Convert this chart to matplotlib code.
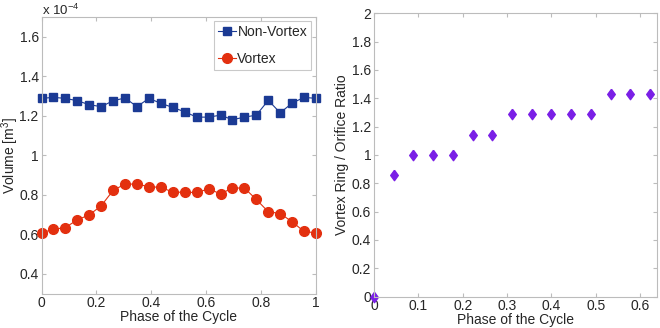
import numpy as np
import matplotlib
matplotlib.use('Agg')
import matplotlib.pyplot as plt

plt.rcParams['font.family'] = ['Liberation Sans', 'DejaVu Sans']
plt.rcParams['font.size'] = 10
plt.rcParams['mathtext.fontset'] = 'custom'
plt.rcParams['mathtext.rm'] = 'Liberation Sans'
plt.rcParams['mathtext.it'] = 'Liberation Sans'

# left panel: volume vs phase (values in units of 1e-4 m^3)
phase = np.linspace(0, 1, 24)
non_vortex = [1.288, 1.293, 1.288, 1.276, 1.256, 1.246, 1.276, 1.290, 1.246, 1.288,
              1.263, 1.242, 1.220, 1.193, 1.193, 1.203, 1.180, 1.193, 1.203, 1.278,
              1.215, 1.264, 1.293, 1.288]
vortex = [0.607, 0.625, 0.634, 0.673, 0.698, 0.744, 0.822, 0.854, 0.854, 0.841,
          0.837, 0.814, 0.812, 0.812, 0.829, 0.805, 0.834, 0.834, 0.776, 0.714,
          0.705, 0.663, 0.614, 0.607]

# right panel: vortex ring / orifice ratio
phase_r = [0, 0.0444, 0.0889, 0.1333, 0.1778, 0.2222, 0.2667, 0.3111, 0.3556,
           0.4, 0.4444, 0.4889, 0.5333, 0.5778, 0.6222]
ratio = [0, 0.857, 1, 1, 1, 1.143, 1.143, 1.286, 1.286, 1.286, 1.286, 1.286,
         1.429, 1.429, 1.429]

axcol = '#bcbcbc'
txtcol = '#262626'

fig = plt.figure(figsize=(6.6, 3.28), dpi=100)
ax1 = fig.add_axes([41.5/660, 1 - 293.5/328, 274.5/660, 276.5/328])
ax2 = fig.add_axes([374/660, 1 - 296.5/328, 283/660, 283.3/328])

def style(ax):
    for s in ax.spines.values():
        s.set_color(axcol)
        s.set_linewidth(0.8)
    ax.tick_params(direction='in', length=3, color=axcol, labelcolor=txtcol,
                   top=True, right=True, labelsize=10, pad=2)

ax1.plot(phase, non_vortex, '-s', color='#1b3a94', markersize=6.3, lw=0.8,
         label='Non-Vortex')
ax1.plot(phase, vortex, '-o', color='#e3300f', markersize=7, lw=0.8,
         label='Vortex')
ax1.set_xlim(0, 1)
ax1.set_ylim(0.3, 1.7)
ax1.set_xticks([0, 0.2, 0.4, 0.6, 0.8, 1])
ax1.set_xticklabels(['0', '0.2', '0.4', '0.6', '0.8', '1'])
ax1.set_yticks([0.4, 0.6, 0.8, 1.0, 1.2, 1.4, 1.6])
ax1.set_yticklabels(['0.4', '0.6', '0.8', '1', '1.2', '1.4', '1.6'])
ax1.set_xlabel('Phase of the Cycle', color=txtcol, labelpad=0)
ax1.set_ylabel('Volume [m$^3$]', color=txtcol)
ax1.yaxis.set_label_coords(-0.076, 0.5)
ax1.text(0, 1.008, 'x 10$^{-4}$', transform=ax1.transAxes, color=txtcol,
         fontsize=9.5, va='baseline', ha='left')
style(ax1)
leg = ax1.legend(loc='upper right', bbox_to_anchor=(0.993, 0.995), frameon=True,
                 fancybox=False, fontsize=10, handlelength=1.3, handletextpad=0.1,
                 borderpad=0.3, labelspacing=0.9, borderaxespad=0.2)
leg.get_frame().set_edgecolor(axcol)
leg.get_frame().set_linewidth(0.8)
for t in leg.get_texts():
    t.set_color(txtcol)

diamond = [(0, 1), (0.73, 0), (0, -1), (-0.73, 0), (0, 1)]
ax2.plot(phase_r, ratio, linestyle='none', marker=diamond, color='#7a1fe6',
         markersize=7.5)
ax2.set_xlim(0, 0.638)
ax2.set_ylim(0, 2)
ax2.set_xticks([0, 0.1, 0.2, 0.3, 0.4, 0.5, 0.6])
ax2.set_xticklabels(['0', '0.1', '0.2', '0.3', '0.4', '0.5', '0.6'])
ax2.set_yticks([0, 0.2, 0.4, 0.6, 0.8, 1, 1.2, 1.4, 1.6, 1.8, 2])
ax2.set_yticklabels(['0', '0.2', '0.4', '0.6', '0.8', '1', '1.2', '1.4', '1.6', '1.8', '2'])
ax2.set_xlabel('Phase of the Cycle', color=txtcol, labelpad=0)
ax2.set_ylabel('Vortex Ring / Orifice Ratio', color=txtcol, labelpad=2)
style(ax2)
for a in (ax1, ax2):
    for l in a.lines:
        l.set_clip_on(False)

fig.savefig('out.png', dpi=100)
